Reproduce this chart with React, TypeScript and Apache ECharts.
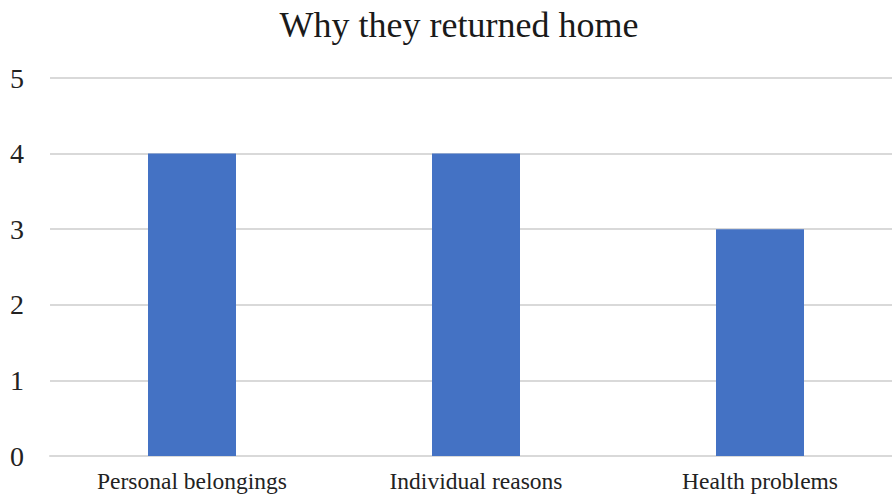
import React, { useEffect, useRef } from "react";
import * as echarts from "echarts";

const categories = ["Personal belongings", "Individual reasons", "Health problems"];
const values = [4, 4, 3];
const titleText = "Why they returned home";

export default function App() {
  const ref = useRef<HTMLDivElement>(null);
  useEffect(() => {
    document.body.style.margin = "0";
    const chart = echarts.init(ref.current!, null, { renderer: "svg" });
    const font = "'Liberation Serif', 'Times New Roman', serif";
    chart.setOption({
      animation: false,
      title: {
        text: titleText,
        left: "center",
        top: 2,
        textStyle: { fontFamily: font, fontSize: 36, fontWeight: "normal", color: "#1a1a1a" },
      },
      grid: { left: 50, right: 16, top: 78, bottom: 41, containLabel: false },
      xAxis: {
        type: "category",
        data: categories,
        axisTick: { show: false },
        axisLine: { lineStyle: { color: "#d9d9d9", width: 2 } },
        axisLabel: { fontFamily: font, fontSize: 23.5, color: "#222", margin: 13 },
      },
      yAxis: {
        type: "value",
        min: 0,
        max: 5,
        interval: 1,
        axisLabel: { fontFamily: font, fontSize: 28, color: "#222", margin: 26 },
        splitLine: { lineStyle: { color: "#d9d9d9", width: 2 } },
        axisLine: { show: false },
        axisTick: { show: false },
      },
      series: [
        {
          type: "bar",
          data: values,
          barWidth: 88,
          itemStyle: { color: "#4472C4" },
        },
      ],
    });
    return () => chart.dispose();
  }, []);
  return (
    <div style={{ width: 892, height: 497, overflow: "hidden", position: "relative" }}>
      <div ref={ref} style={{ width: 918, height: 497 }} />
    </div>
  );
}
